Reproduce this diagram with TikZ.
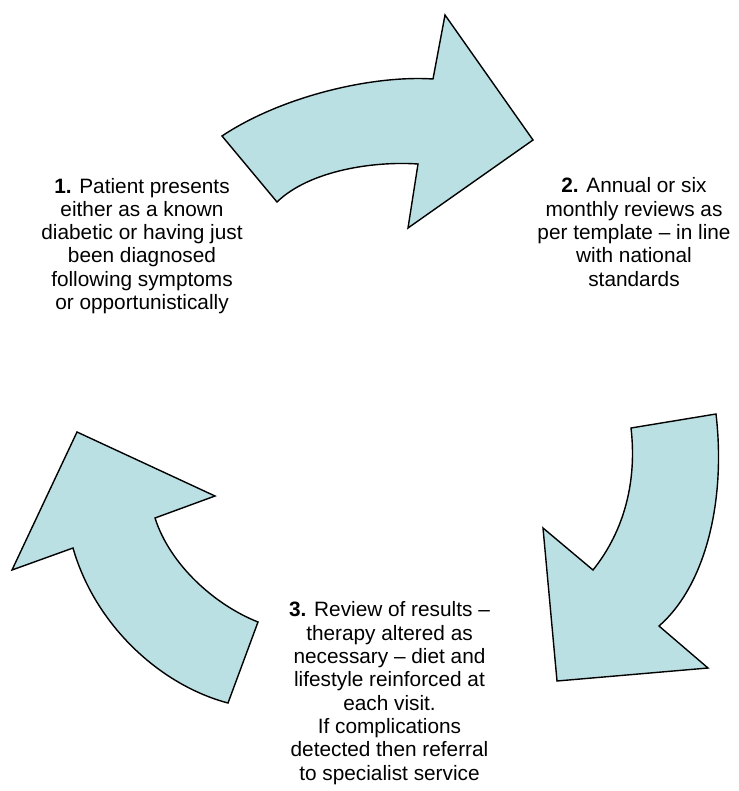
\documentclass[tikz,border=0pt]{standalone}
\usepackage{fontspec}
\setmainfont{Liberation Sans}
\begin{document}
\begin{tikzpicture}[x=1pt,y=-1pt,
  cyclearrow/.style={fill=arrowfill,draw=black,line width=1.4pt,line join=miter},
  steptext/.style={align=center,anchor=base,inner sep=0pt,
    font=\fontsize{20.8}{23.3}\selectfont}]
\definecolor{arrowfill}{HTML}{BAE0E3}
\useasboundingbox (0,0) rectangle (738,791);

% top arrow: step 1 -> step 2
\draw[cyclearrow] (222,136) .. controls (282,96) and (373,75) .. (433,79)
  -- (445,15) -- (533,140) -- (408,228) -- (418,164)
  .. controls (375,161) and (310,170) .. (277,202) -- cycle;

% right arrow: step 2 -> step 3
\draw[cyclearrow] (631,428) -- (716,414)
  .. controls (726,500) and (706,585) .. (659,626)
  -- (708,668) -- (557,681) -- (543,528) -- (593,570)
  .. controls (625,530) and (637,480) .. (631,428) -- cycle;

% left arrow: step 3 -> step 1
\draw[cyclearrow] (77,432) -- (215,496) -- (155,518)
  .. controls (170,565) and (215,605) .. (258,622)
  -- (228,703)
  .. controls (160,685) and (95,625) .. (73,548)
  -- (12,570) -- cycle;

% step texts, placed by the baseline of their last line
\node[steptext] (s1) at (142,309.5) {\textbf{1.} Patient presents\\either as a known\\diabetic or having just\\been diagnosed\\following symptoms\\or opportunistically};
\node[steptext] (s2) at (634,286.2) {\textbf{2.} Annual or six\\monthly reviews as\\per template -- in line\\with national\\standards};
\node[steptext] (s3) at (389.5,780) {\textbf{3.} Review of results --\\therapy altered as\\necessary -- diet and\\lifestyle reinforced at\\each visit.\\If complications\\detected then referral\\to specialist service};
\end{tikzpicture}
\end{document}
